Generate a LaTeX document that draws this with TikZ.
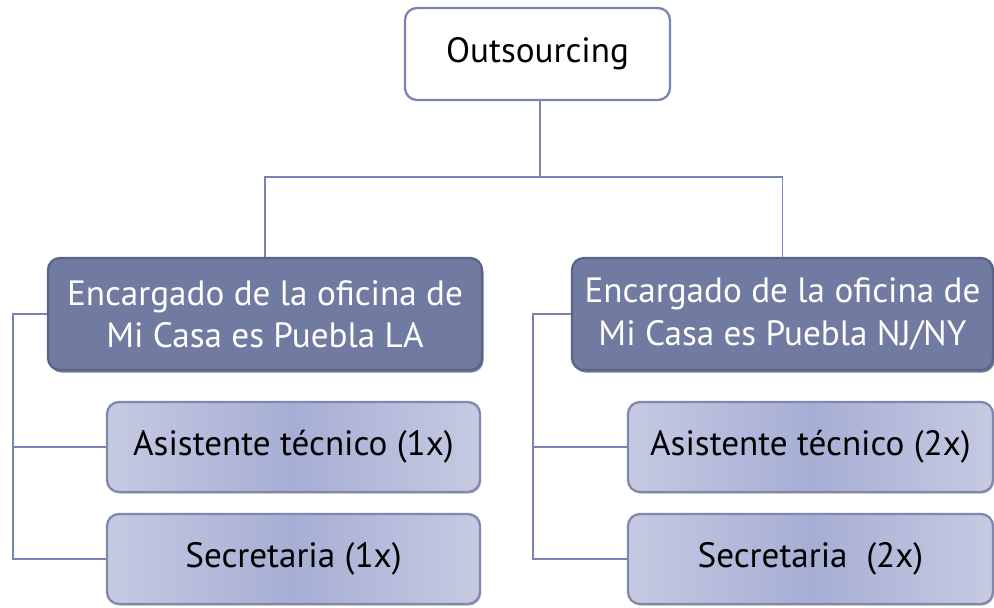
\documentclass[tikz,border=0pt]{standalone}
\usepackage{fontspec}
\setmainfont{PT Sans}
\usetikzlibrary{shadows}
\definecolor{edge}{HTML}{7A84B0}
\definecolor{darkbox}{HTML}{717BA1}
\definecolor{darkrim}{HTML}{5A6488}
\definecolor{lightA}{HTML}{C6CAE2}
\definecolor{lightB}{HTML}{A6AED4}
\definecolor{lightrim}{HTML}{8088B0}
\begin{document}
\begin{tikzpicture}[
    box/.style={rounded corners=0.24cm, line width=1.3pt, align=center, inner sep=0pt,
        font=\fontsize{20}{24}\selectfont},
    topbox/.style={box, draw=edge, fill=white, minimum width=5.3cm, minimum height=1.84cm},
    headbox/.style={box, draw=darkrim, fill=darkbox, text=white, minimum height=2.24cm,
        drop shadow={shadow xshift=0.03cm, shadow yshift=-0.05cm, fill=darkrim!70!black, opacity=0.7}},
    staffbox/.style={box, draw=lightrim, left color=lightA, right color=lightA, middle color=lightB,
        minimum height=1.8cm,
        drop shadow={shadow xshift=0.02cm, shadow yshift=-0.03cm, fill=gray, opacity=0.5}},
    link/.style={draw=edge, line width=1.1pt}]
    \useasboundingbox (0,0) rectangle (19.88,12.14);
    \node[topbox] (top) at (10.75,11.06) {Outsourcing};
    \node[headbox, minimum width=8.68cm] (la) at (5.3,5.86) {Encargado de la oficina de\\Mi Casa es Puebla LA};
    \node[headbox, minimum width=8.42cm] (nj) at (15.65,5.86) {Encargado de la oficina de\\Mi Casa es Puebla NJ/NY};
    \node[staffbox, minimum width=7.46cm] (la1) at (5.87,3.2) {Asistente técnico (1x)};
    \node[staffbox, minimum width=7.46cm] (la2) at (5.87,0.96) {Secretaria (1x)};
    \node[staffbox, minimum width=7.3cm] (nj1) at (16.21,3.2) {Asistente técnico (2x)};
    \node[staffbox, minimum width=7.3cm] (nj2) at (16.21,0.96) {Secretaria~~(2x)};
    % bus and spines
    \coordinate (bus) at (10.8,8.6);
    \coordinate (laspine) at (0.26,0);
    \coordinate (njspine) at (10.66,0);
    \draw[link] (top.south -| bus) -- (bus);
    \draw[link] (la.north) |- (bus) -| (nj.north);
    \draw[link] (la.west) -- (la.west -| laspine) |- (la1.west);
    \draw[link] (la.west -| laspine) |- (la2.west);
    \draw[link] (nj.west) -- (nj.west -| njspine) |- (nj1.west);
    \draw[link] (nj.west -| njspine) |- (nj2.west);
\end{tikzpicture}
\end{document}
